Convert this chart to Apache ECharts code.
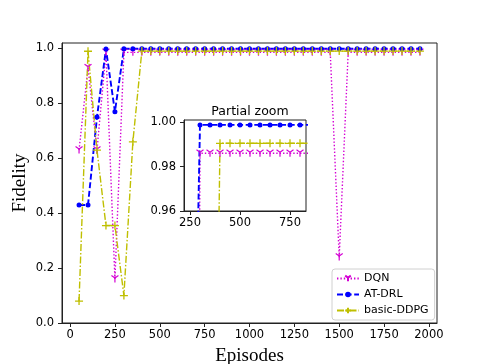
<!DOCTYPE html>
<html>
<head>
<meta charset="utf-8">
<title>Fidelity vs Episodes</title>
<script src="https://cdn.jsdelivr.net/npm/echarts@6/dist/echarts.min.js"></script>
</head>
<body style="margin:0">
<div id="main" style="width:485px;height:364px;"></div>
<script>
// x positions of the recorded points
var episodes = [50, 100, 150, 200, 250, 300, 350, 400, 450, 500, 550, 600, 650, 700, 750, 800,
    850, 900, 950, 1000, 1050, 1100, 1150, 1200, 1250, 1300, 1350, 1400, 1450, 1500,
    1550, 1600, 1650, 1700, 1750, 1800, 1850, 1900, 1950];

var dqn = [0.63, 0.93, 0.63, 0.986, 0.16,
    0.986, 0.986, 0.986, 0.986, 0.986, 0.986, 0.986, 0.986, 0.986, 0.986, 0.986, 0.986,
    0.986, 0.986, 0.986, 0.986, 0.986, 0.986, 0.986, 0.986, 0.986, 0.986, 0.986, 0.986,
    0.24,
    0.986, 0.986, 0.986, 0.986, 0.986, 0.986, 0.986, 0.986, 0.986];

var atdrl = [0.43, 0.43, 0.75, 0.998, 0.77,
    0.9988, 0.9988, 0.9988, 0.9988, 0.9988, 0.9988, 0.9988, 0.9988, 0.9988, 0.9988, 0.9988, 0.9988,
    0.9988, 0.9988, 0.9988, 0.9988, 0.9988, 0.9988, 0.9988, 0.9988, 0.9988, 0.9988, 0.9988, 0.9988,
    0.9988, 0.9988, 0.9988, 0.9988, 0.9988, 0.9988, 0.9988, 0.9988, 0.9988, 0.9988];

var ddpg = [0.08, 0.99, 0.63, 0.355, 0.355, 0.10, 0.66,
    0.9905, 0.9905, 0.9905, 0.9905, 0.9905, 0.9905, 0.9905, 0.9905, 0.9905, 0.9905,
    0.9905, 0.9905, 0.9905, 0.9905, 0.9905, 0.9905, 0.9905, 0.9905, 0.9905, 0.9905,
    0.9905, 0.9905, 0.9905, 0.9905, 0.9905, 0.9905, 0.9905, 0.9905, 0.9905, 0.9905,
    0.9905, 0.9905];

var xTicks = [0, 250, 500, 750, 1000, 1250, 1500, 1750, 2000];
var yTicks = [0, 0.2, 0.4, 0.6, 0.8, 1.0];
var zoomXTicks = [250, 500, 750];
var zoomYTicks = [0.96, 0.98, 1.00];

var myChart = echarts.init(document.getElementById('main'));

var tickFont = { fontFamily: 'DejaVu Sans', fontSize: 11.5, color: '#000' };
var triDown = 'path://M5,5 L5,10 M5,5 L0.67,2.5 M5,5 L9.33,2.5';
var plus = 'path://M0,5 L10,5 M5,0 L5,10';
var magenta = '#d400d4';

function pairs(vals) {
    var out = [];
    for (var i = 0; i < episodes.length; i++) out.push([episodes[i], vals[i]]);
    return out;
}

function makeSeries(idx) {
    return [{
        name: 'DQN', type: 'line', xAxisIndex: idx, yAxisIndex: idx,
        data: pairs(dqn), symbol: triDown, symbolSize: 7,
        itemStyle: { color: magenta, borderColor: magenta, borderWidth: 1.2 },
        lineStyle: { color: magenta, width: 1.4, type: [1.4, 2] }
    }, {
        name: 'AT-DRL', type: 'line', xAxisIndex: idx, yAxisIndex: idx,
        data: pairs(atdrl), symbol: 'circle', symbolSize: 5,
        itemStyle: { color: '#0000ff', borderWidth: 0 },
        lineStyle: { color: '#0000ff', width: 1.9, type: [6, 2.6] }
    }, {
        name: 'basic-DDPG', type: 'line', xAxisIndex: idx, yAxisIndex: idx,
        data: pairs(ddpg), symbol: plus, symbolSize: 8,
        itemStyle: { color: '#bfbf00', borderColor: '#bfbf00', borderWidth: 1.3 },
        lineStyle: { color: '#bfbf00', width: 1.4, type: [7, 2, 1.5, 2] }
    }];
}

var option = {
    animation: false,
    backgroundColor: '#fff',
    title: {
        text: 'Partial zoom', left: 245, top: 100, textAlign: 'center',
        textStyle: { fontFamily: 'DejaVu Sans', fontSize: 12.5, fontWeight: 'normal', color: '#000' }
    },
    legend: {
        data: ['DQN', 'AT-DRL', 'basic-DDPG'],
        orient: 'vertical', left: 332, top: 269,
        itemWidth: 22, itemHeight: 7, itemGap: 5,
        padding: [4, 6, 4, 4],
        borderColor: '#d0d0d0', borderWidth: 1, borderRadius: 3,
        backgroundColor: 'rgba(255,255,255,0.8)',
        textStyle: { fontFamily: 'DejaVu Sans', fontSize: 11, color: '#000' }
    },
    grid: [
        { left: 62, top: 43, width: 375, height: 280, outerBoundsMode: 'none', containLabel: false,
          show: true, borderColor: '#222', borderWidth: 1, backgroundColor: '#fff' },
        { left: 184, top: 120, width: 122, height: 91, outerBoundsMode: 'none', containLabel: false,
          show: true, borderColor: '#222', borderWidth: 1, backgroundColor: '#fff' }
    ],
    xAxis: [{
        type: 'value', gridIndex: 0, min: -45, max: 2045,
        name: 'Episodes', nameLocation: 'middle', nameGap: 24, nameMoveOverlap: false,
        nameTextStyle: { fontFamily: 'Liberation Serif', fontSize: 19, color: '#000' },
        axisLine: { show: true, onZero: false, lineStyle: { color: '#222' } },
        axisTick: { show: true, length: 4, customValues: xTicks, lineStyle: { color: '#222' } },
        axisLabel: Object.assign({ margin: 6, customValues: xTicks, formatter: function (v) { return String(v); } }, tickFont),
        splitLine: { show: false }
    }, {
        type: 'value', gridIndex: 1, min: 220, max: 830,
        axisLine: { show: true, onZero: false, lineStyle: { color: '#222' } },
        axisTick: { show: true, length: 4, customValues: zoomXTicks, lineStyle: { color: '#222' } },
        axisLabel: Object.assign({ margin: 6, customValues: zoomXTicks, formatter: function (v) { return String(v); } }, tickFont),
        splitLine: { show: false }
    }],
    yAxis: [{
        type: 'value', gridIndex: 0, min: 0, max: 1.02,
        name: 'Fidelity', nameLocation: 'middle', nameGap: 32, nameMoveOverlap: false,
        nameTextStyle: { fontFamily: 'Liberation Serif', fontSize: 19, color: '#000' },
        axisLine: { show: true, onZero: false, lineStyle: { color: '#222' } },
        axisTick: { show: true, length: 4, customValues: yTicks, lineStyle: { color: '#222' } },
        axisLabel: Object.assign({ margin: 8, customValues: yTicks, formatter: function (v) { return v.toFixed(1); } }, tickFont),
        splitLine: { show: false }
    }, {
        type: 'value', gridIndex: 1, min: 0.96, max: 1.001,
        axisLine: { show: true, onZero: false, lineStyle: { color: '#222' } },
        axisTick: { show: true, length: 4, customValues: zoomYTicks, lineStyle: { color: '#222' } },
        axisLabel: Object.assign({ margin: 8, customValues: zoomYTicks, formatter: function (v) { return v.toFixed(2); } }, tickFont),
        splitLine: { show: false }
    }],
    series: makeSeries(0).concat(makeSeries(1))
};

myChart.setOption(option);
</script>
</body>
</html>
